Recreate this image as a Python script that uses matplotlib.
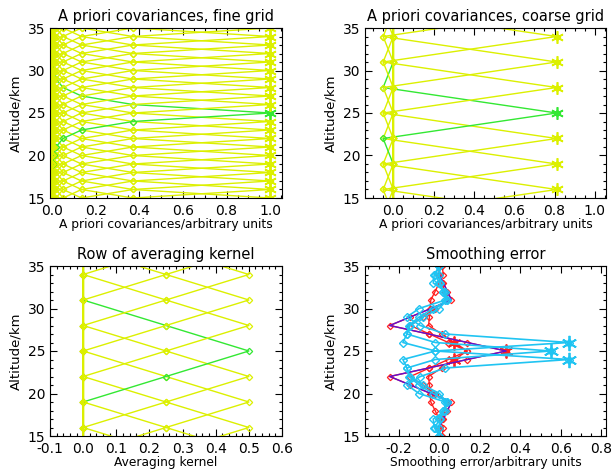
import numpy as np
import matplotlib.pyplot as plt
from matplotlib.ticker import MultipleLocator, FormatStrFormatter

plt.rcParams['font.family'] = ['DejaVu Sans']

YELLOW = '#dcf000'
GREEN = '#33e833'
RED = '#ff2020'
CYAN = '#20c4f2'
PURPLE = '#6010d0'
ASTER = (6, 2, 0)

# ---- panel 1: a priori covariance on the fine (1 km) grid
fine_levels = np.arange(5, 46)
fine_cov_by_sep = [1.0, 0.37, 0.135, 0.05, 0.018, 0.007, 0.0025, 0.001, 0.0003, 0.0]

# ---- panel 2 / 3: coarse (3 km) grid
coarse_levels = np.arange(1, 50, 3)
coarse_cov_by_sep = [0.81, -0.05, 0.0]
kernel_by_sep = [0.5, 0.25, 0.0]
highlight = 25

# ---- panel 4: smoothing error rows (fine levels 15..35)
se_levels = np.arange(15, 36)
red_rows = {
    24: [0.013, 0.02, -0.001, -0.021, -0.042, -0.046, -0.049, -0.053, 0.011, 0.074, 0.138,
         0.044, -0.049, -0.143, -0.082, -0.021, 0.04, 0.027, 0.013, 0.0, 0.0],
    25: [0.0, 0.0, 0.02, 0.04, 0.06, -0.042, -0.143, -0.245, -0.053, 0.138, 0.33,
         0.138, -0.053, -0.245, -0.143, -0.042, 0.06, 0.04, 0.02, 0.0, 0.0],
    26: [0.0, 0.0, 0.013, 0.027, 0.04, -0.021, -0.082, -0.143, -0.049, 0.044, 0.138,
         0.074, 0.011, -0.053, -0.049, -0.046, -0.042, -0.021, -0.001, 0.02, 0.013],
}
cyan_rows = {
    24: [0.0, -0.025, -0.03, 0.03, 0.03, -0.10, -0.16, -0.094, 0.03, 0.64, -0.02,
         -0.18, -0.16, -0.145, -0.08, 0.0, 0.036, 0.02, 0.0, -0.02, 0.0],
    25: [0.0, 0.0, 0.005, 0.02, 0.04, -0.03, -0.10, -0.15, -0.16, -0.02, 0.55,
         -0.02, -0.16, -0.15, -0.10, -0.03, 0.04, 0.02, 0.005, 0.0, 0.0],
    26: [0.0, -0.02, 0.0, 0.02, 0.036, 0.0, -0.08, -0.145, -0.16, -0.18, -0.02,
         0.64, 0.03, -0.094, -0.16, -0.10, 0.03, 0.03, -0.03, -0.025, 0.0],
}
coarse_se_levels = [16, 19, 22, 25, 28, 31, 34]
coarse_se_row = [0.0, 0.06, -0.245, 0.33, -0.245, 0.06, 0.0]


def rows_from_sep(levels, by_sep):
    n = len(levels)
    sep = np.abs(np.arange(n)[:, None] - np.arange(n)[None, :])
    sep = np.minimum(sep, len(by_sep) - 1)
    return np.asarray(by_sep)[sep]


def draw_rows(ax, levels, mat, star=True):
    for i, z in enumerate(levels):
        col = GREEN if z == highlight else YELLOW
        ax.plot(mat[i], levels, color=col, lw=1.0, marker='D', ms=3.2,
                mfc='none', mec=col, mew=0.9)
        if star:
            ax.plot(mat[i][i], z, marker=ASTER, ms=9, color=col, mew=1.2,
                    linestyle='none')


def style(ax, xlim, xmaj, xmin, title, xlabel):
    ax.set_xlim(*xlim)
    ax.set_ylim(15, 35)
    ax.xaxis.set_major_locator(MultipleLocator(xmaj))
    ax.xaxis.set_minor_locator(MultipleLocator(xmin))
    ax.xaxis.set_major_formatter(FormatStrFormatter('%.1f'))
    ax.yaxis.set_major_locator(MultipleLocator(5))
    ax.yaxis.set_minor_locator(MultipleLocator(1))
    ax.tick_params(which='both', direction='in', top=True, right=True,
                   labelsize=10, width=0.8)
    ax.tick_params(axis='x', which='major', pad=4.5)
    ax.tick_params(which='major', length=5)
    ax.tick_params(which='minor', length=2.5)
    for s in ax.spines.values():
        s.set_linewidth(0.8)
    ax.set_title(title, fontsize=10.5, pad=5)
    ax.set_xlabel(xlabel, fontsize=8.8, labelpad=0)
    ax.set_ylabel('Altitude/km', fontsize=9.5, labelpad=4)


W, H = 614, 472
fig = plt.figure(figsize=(W / 100, H / 100), dpi=100)


def box(l, r, t, b):
    return [l / W, 1 - b / H, (r - l) / W, (b - t) / H]


ax1 = fig.add_axes(box(50, 282, 28, 198))
ax2 = fig.add_axes(box(365, 606, 28, 198))
ax3 = fig.add_axes(box(50, 282, 266, 436))
ax4 = fig.add_axes(box(365, 606, 266, 436))

draw_rows(ax1, fine_levels, rows_from_sep(fine_levels, fine_cov_by_sep))
style(ax1, (-0.0097, 1.054), 0.2, 0.05, 'A priori covariances, fine grid',
      'A priori covariances/arbitrary units')

draw_rows(ax2, coarse_levels, rows_from_sep(coarse_levels, coarse_cov_by_sep))
style(ax2, (-0.14, 1.055), 0.2, 0.05, 'A priori covariances, coarse grid',
      'A priori covariances/arbitrary units')

draw_rows(ax3, coarse_levels, rows_from_sep(coarse_levels, kernel_by_sep), star=False)
style(ax3, (-0.1, 0.6), 0.1, 0.02, 'Row of averaging kernel', 'Averaging kernel')

for z, row in red_rows.items():
    ax4.plot(row, se_levels, color=RED, lw=1.0, marker='D', ms=3.2,
             mfc='none', mec=RED, mew=0.9)
    ax4.plot(row[z - 15], z, marker=ASTER, ms=10, color=RED, mew=1.3,
             linestyle='none')
ax4.plot(coarse_se_row, coarse_se_levels, color=PURPLE, lw=1.0)
for z, row in cyan_rows.items():
    ax4.plot(row, se_levels, color=CYAN, lw=1.2, marker='D', ms=3.6,
             mfc='none', mec=CYAN, mew=1.0)
    ax4.plot(row[z - 15], z, marker=ASTER, ms=11, color=CYAN, mew=1.3,
             linestyle='none')
style(ax4, (-0.367, 0.823), 0.2, 0.05, 'Smoothing error',
      'Smoothing error/arbitrary units')

fig.savefig('out.png', dpi=100)
